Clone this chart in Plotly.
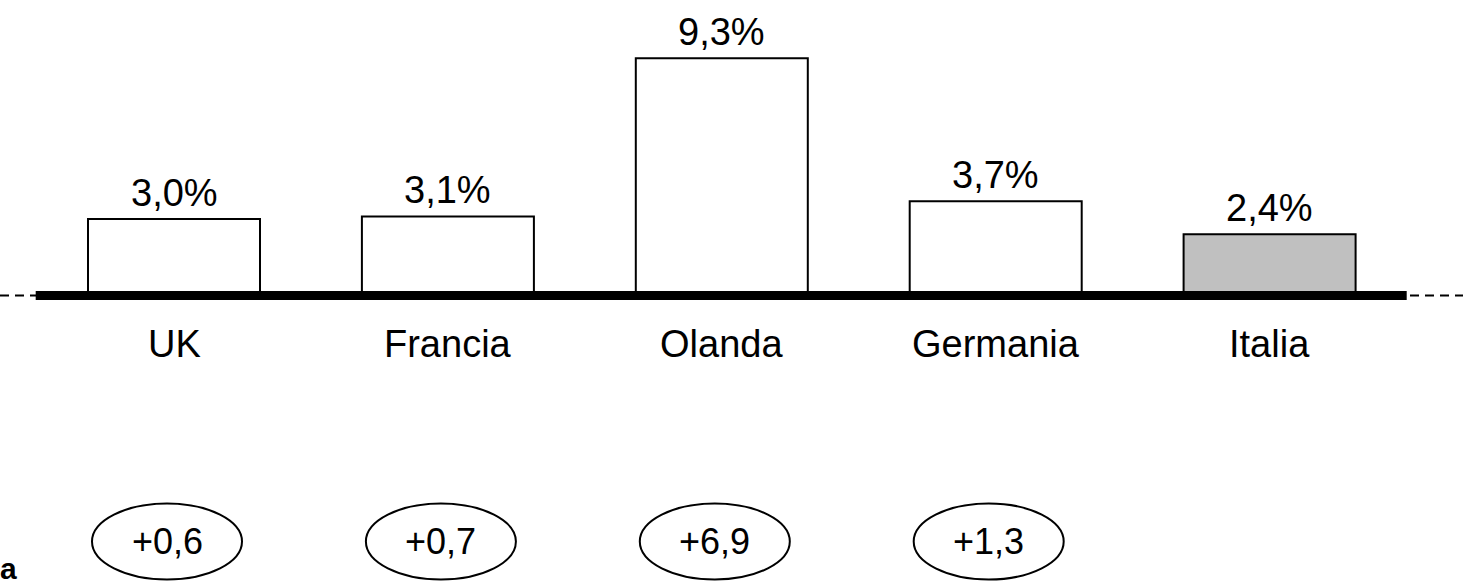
import plotly.graph_objects as go

# ---- data ----
categories = ["UK", "Francia", "Olanda", "Germania", "Italia"]
values = [3.0, 3.1, 9.3, 3.7, 2.4]
fill_colors = ["white", "white", "white", "white", "#C0C0C0"]
delta_categories = ["UK", "Francia", "Olanda", "Germania"]
deltas = [0.6, 0.7, 6.9, 1.3]

W, H = 1463, 587
FONT = "Liberation Sans, Arial, sans-serif"

# pixel geometry helpers (layout only)
PX_PER_UNIT = 25.5
BASE_PX = 295.5
SPACING = 273.9
FIRST_CENTER = 174.0
x0 = -FIRST_CENTER / SPACING
x1 = x0 + W / SPACING
y_top = BASE_PX / PX_PER_UNIT
y_bot = -(H - BASE_PX) / PX_PER_UNIT


def fmt_pct(v):
    return f"{v:.1f}".replace(".", ",") + "%"


def fmt_delta(v):
    return "+" + f"{v:.1f}".replace(".", ",")


fig = go.Figure()
fig.add_trace(go.Bar(
    x=categories, y=values,
    width=172 / SPACING,
    marker=dict(color=fill_colors, line=dict(color="black", width=2)),
    hoverinfo="skip",
))

annotations = []
# value labels above bars
for c, v in zip(categories, values):
    annotations.append(dict(x=c, y=v, xref="x", yref="y", text=fmt_pct(v),
                            showarrow=False, yanchor="middle", yshift=26,
                            font=dict(family=FONT, size=38, color="black")))
# category labels below baseline
for c in categories:
    annotations.append(dict(x=c, y=0, xref="x", yref="y", text=c,
                            showarrow=False, yanchor="middle", yshift=-48,
                            font=dict(family=FONT, size=38, color="black")))

shapes = []
# dashed reference line (full width)
shapes.append(dict(type="line", xref="paper", yref="y", x0=0, x1=1, y0=0, y1=0,
                   line=dict(color="black", width=2, dash="9px,6px"), layer="below"))
# thick baseline
shapes.append(dict(type="line", xref="paper", yref="y", x0=35.7 / W, x1=1406.7 / W,
                   y0=0, y1=0, line=dict(color="black", width=9), layer="above"))

# ellipses with deltas
ell_cy = -(541.5 - BASE_PX) / PX_PER_UNIT
ell_hh = 38 / PX_PER_UNIT
ell_hw = 75 / SPACING
ell_dx = -7 / SPACING
for c, d in zip(delta_categories, deltas):
    i = categories.index(c)
    cx = i + ell_dx
    shapes.append(dict(type="circle", xref="x", yref="y",
                       x0=cx - ell_hw, x1=cx + ell_hw,
                       y0=ell_cy - ell_hh, y1=ell_cy + ell_hh,
                       line=dict(color="black", width=2), fillcolor="rgba(0,0,0,0)"))
    annotations.append(dict(x=cx, y=ell_cy, xref="x", yref="y", text=fmt_delta(d),
                            showarrow=False, yanchor="middle",
                            font=dict(family=FONT, size=36, color="black")))

# bold text at the bottom-left edge
annotations.append(dict(x=0, y=0, xref="paper", yref="paper", text="<b>a</b>",
                        showarrow=False, xanchor="left", yanchor="bottom",
                        xshift=-2, yshift=0,
                        font=dict(family=FONT, size=30, color="black")))

fig.update_layout(
    width=W, height=H,
    margin=dict(l=0, r=0, t=0, b=0),
    paper_bgcolor="white", plot_bgcolor="white",
    showlegend=False,
    xaxis=dict(range=[x0, x1], visible=False, type="category"),
    yaxis=dict(range=[y_bot, y_top], visible=False),
    shapes=shapes,
    annotations=annotations,
)

fig.write_html("out.html",
               config={"displayModeBar": False},
               post_script="document.body.style.margin='0';document.body.style.padding='0';")
